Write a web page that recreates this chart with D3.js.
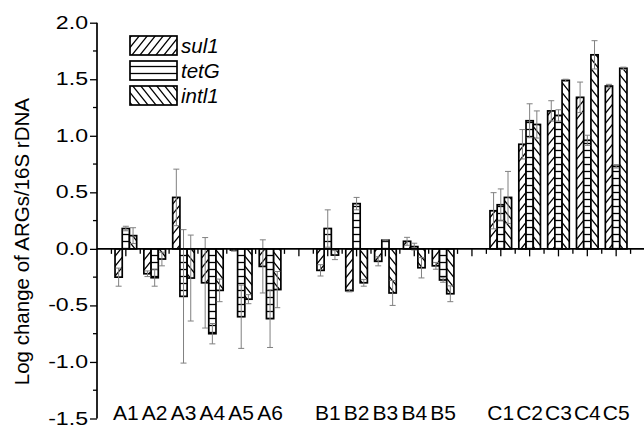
<!DOCTYPE html>
<html><head><meta charset="utf-8">
<script src="https://cdn.jsdelivr.net/npm/d3@7"></script>
<style>html,body{margin:0;padding:0;background:#fff}svg{display:block}</style>
</head><body>
<svg id="c" width="644" height="427"></svg>
<script>
// ---- data ----
const categories = ["A1","A2","A3","A4","A5","A6","","B1","B2","B3","B4","B5","","C1","C2","C3","C4","C5"];
const seriesNames = ["sul1","tetG","intl1"];
const sul1     = [-0.25,-0.22,0.455,-0.30,-0.01,-0.155,null,-0.19,-0.37,-0.11,0.067,-0.15,null,0.337,0.925,1.22,1.34,1.44];
const sul1Err  = [0.08,0.025,0.25,0.40,0.01,0.235,null,0.05,0.01,0.04,0.035,0.03,null,0.16,0.13,0.09,0.135,0.015];
const tetG     = [0.18,-0.255,-0.42,-0.75,-0.60,-0.617,null,0.18,0.40,0.077,0.02,-0.275,null,0.39,1.133,1.18,0.96,0.73];
const tetGErr  = [0.02,0.075,0.59,0.09,0.28,0.255,null,0.165,0.055,0.005,0.03,0.02,null,0.14,0.15,0.05,0.045,0.015];
const intl1    = [0.117,-0.09,-0.258,-0.367,-0.445,-0.36,null,-0.055,-0.30,-0.39,-0.167,-0.397,null,0.455,1.10,1.49,1.716,1.597];
const intl1Err = [0.07,0.06,0.38,0.10,0.04,0.16,null,0.04,0.03,0.11,0.09,0.07,null,0.23,0.12,0.01,0.125,0.01];
const yTicks = [-1.5,-1.0,-0.5,0.0,0.5,1.0,1.5,2.0];
const yTitle = "Log change of ARGs/16S rDNA";

const values = [sul1, tetG, intl1];
const errs = [sul1Err, tetGErr, intl1Err];

// ---- layout ----
const svg = d3.select("#c");
const mL = 97, mR = 645, mT = 22.7, mB = 418.5;
const x = d3.scaleLinear().domain([-1, categories.length]).range([mL, mR]);
const y = d3.scaleLinear().domain([-1.5, 2.0]).range([mB, mT]);
const step = x(1) - x(0);
const bw = step * 0.25;
const FONT = "Liberation Sans, Arial, sans-serif";

// patterns
const defs = svg.append("defs");
function pat(id, w, h, d) {
  const p = defs.append("pattern").attr("id", id).attr("patternUnits", "userSpaceOnUse")
    .attr("width", w).attr("height", h);
  p.append("rect").attr("width", w).attr("height", h).attr("fill", "#fff");
  p.append("path").attr("d", d).attr("stroke", "#000").attr("stroke-width", 1.3).attr("fill", "none");
}
pat("p0", 8, 10, "M-1,11.25 L9,-1.25 M-2,2.5 L1,-1.25 M7,11.25 L10,7.5");
pat("p1", 8, 7, "M0,3.5 L8,3.5");
pat("p2", 8, 10, "M-1,-1.25 L9,11.25 M-2,7.5 L1,11.25 M7,-1.25 L10,2.5");

// x-axis ticks (behind bars)
const zeroY = y(0);
const tickPos = d3.range(-0.5, categories.length, 0.5);
svg.append("g").selectAll("line").data(tickPos).join("line")
  .attr("x1", d => x(d)).attr("x2", d => x(d))
  .attr("y1", zeroY).attr("y2", d => zeroY + (Number.isInteger(d) ? 7.5 : 5))
  .attr("stroke", "#000").attr("stroke-width", 1.3);

// bars
const barG = svg.append("g");
values.forEach((vals, s) => {
  barG.append("g").selectAll("rect")
    .data(vals.map((v, i) => ({v, i})).filter(d => d.v !== null))
    .join("rect")
    .attr("x", d => x(d.i) + (s - 1.5) * bw)
    .attr("width", bw)
    .attr("y", d => Math.min(y(d.v), zeroY))
    .attr("height", d => Math.abs(y(d.v) - zeroY))
    .attr("fill", `url(#p${s})`)
    .attr("stroke", "#000").attr("stroke-width", 1.7);
});

// error bars
const errG = svg.append("g").attr("stroke", "#808080").attr("stroke-width", 1);
values.forEach((vals, s) => {
  vals.forEach((v, i) => {
    if (v === null) return;
    const e = errs[s][i];
    const cx = x(i) + (s - 1) * bw;
    errG.append("line").attr("x1", cx).attr("x2", cx).attr("y1", y(v - e)).attr("y2", y(v + e));
    [v - e, v + e].forEach(t => {
      errG.append("line").attr("x1", cx - 3).attr("x2", cx + 3).attr("y1", y(t)).attr("y2", y(t));
    });
  });
});

// zero line
svg.append("line").attr("x1", mL).attr("x2", mR).attr("y1", zeroY).attr("y2", zeroY)
  .attr("stroke", "#000").attr("stroke-width", 1.7);

// y axis
const sx = 1.25;
const yAxis = d3.axisLeft(y).tickValues(yTicks).tickFormat(d3.format(".1f")).tickSize(7).tickPadding(2);
const ya = svg.append("g").attr("transform", `translate(${mL},0)`).call(yAxis);
ya.select(".domain").attr("stroke-width", 1.7).attr("d", `M0,${mT}V${mB}`);
ya.selectAll(".tick line").attr("stroke-width", 1.3);
ya.selectAll("text").attr("font-family", FONT).attr("font-size", 18.5).attr("fill", "#000")
  .attr("x", -9 / sx).attr("dy", "0.3em").attr("transform", `scale(${sx},1)`)
  .text(d => d < 0 ? "-" + d3.format(".1f")(-d) : d3.format(".1f")(d));
const minor = d3.range(-1.25, 2.0, 0.5);
svg.append("g").selectAll("line").data(minor).join("line")
  .attr("x1", mL - 4).attr("x2", mL).attr("y1", d => y(d)).attr("y2", d => y(d))
  .attr("stroke", "#000").attr("stroke-width", 1.3);

// category labels
svg.append("g").selectAll("text").data(categories.map((c, i) => ({c, i})).filter(d => d.c))
  .join("text")
  .attr("x", d => x(d.i)).attr("y", 420)
  .attr("text-anchor", "middle")
  .attr("font-family", FONT).attr("font-size", 21)
  .text(d => d.c);

// y title
svg.append("text").attr("transform", `translate(28.5,${(mT + mB) / 2 + 21}) rotate(-90)`)
  .attr("text-anchor", "middle")
  .attr("font-family", FONT).attr("font-size", 20.5)
  .text(yTitle);

// legend
const lg = svg.append("g");
seriesNames.forEach((n, s) => {
  const yy = 36 + s * 25;
  lg.append("rect").attr("x", 130).attr("y", yy).attr("width", 47).attr("height", 19)
    .attr("fill", `url(#p${s})`).attr("stroke", "#000").attr("stroke-width", 1.7);
  lg.append("text").attr("x", 181).attr("y", yy + 16.5)
    .attr("font-family", FONT).attr("font-size", 20.5).attr("font-style", "italic")
    .text(n);
});
</script>
</body></html>
